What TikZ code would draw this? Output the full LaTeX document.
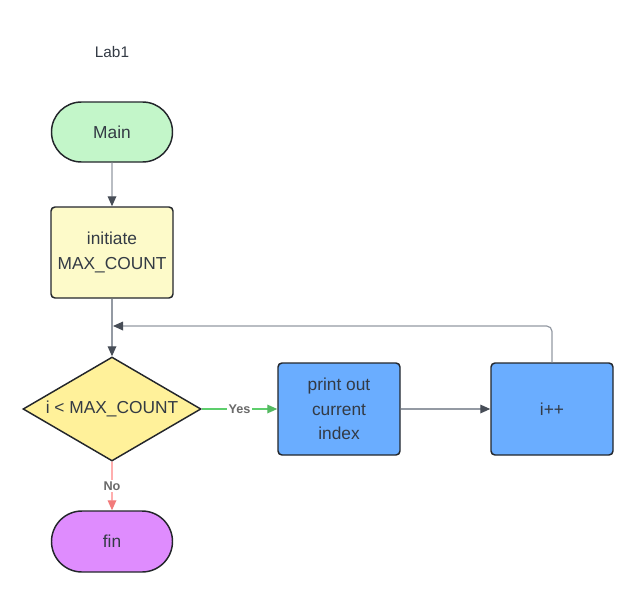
\documentclass[tikz,border=0pt]{standalone}
\usepackage{fontspec}
\setmainfont{Liberation Sans}
\usetikzlibrary{arrows.meta,shapes.geometric,shapes.misc}
\definecolor{txt}{HTML}{333A44}
\definecolor{bord}{HTML}{23262B}
\definecolor{edge}{HTML}{949AA3}
\definecolor{tip}{HTML}{474D57}
\definecolor{mgreen}{HTML}{C3F6C9}
\definecolor{myellow}{HTML}{FDFAC9}
\definecolor{dyellow}{HTML}{FFF19A}
\definecolor{mblue}{HTML}{6AADFF}
\definecolor{mpurple}{HTML}{DF8CFE}
\definecolor{yesg}{HTML}{5DCE6C}
\definecolor{nor}{HTML}{FF8282}
\definecolor{lbl}{HTML}{6A6A6A}
\tikzset{
  base/.style={draw=bord, line width=1.1pt, text=txt, font=\fontsize{13}{18.5}\selectfont, align=center, inner sep=0pt},
  term/.style={base, rounded rectangle, minimum width=121*0.75pt, minimum height=60*0.75pt},
  procbox/.style={base, rectangle, rounded corners=3pt, minimum width=122*0.75pt, minimum height=92*0.75pt},
  decision/.style={base, diamond, aspect=1.71, minimum width=178*0.75pt, minimum height=104*0.75pt},
  conn/.style={draw=edge, line width=0.9pt, -{Triangle[length=7.5pt, width=6.5pt, color=tip]}},
  yesconn/.style={draw=yesg, line width=0.9pt, -{Triangle[length=7.5pt, width=6.5pt, color=yesg!90!black]}},
  noconn/.style={draw=nor, line width=0.9pt, -{Triangle[length=7.5pt, width=6.5pt, color=nor!95!black]}},
  elabel/.style={fill=white, text=lbl, font=\bfseries\fontsize{9.5}{11}\selectfont, inner sep=1pt}
}
\begin{document}
\begin{tikzpicture}[x=0.75pt, y=-0.75pt]
\useasboundingbox (0,0) rectangle (627,610);
\node[text=txt, font=\fontsize{11.5}{14}\selectfont] (title) at (112,52) {Lab1};
\node[term, fill=mgreen] (main) at (112,132) {Main};
\node[procbox, fill=myellow, minimum height=91*0.75pt] (init) at (112,252.5) {initiate\\MAX\_COUNT};
\node[decision, fill=dyellow] (dec) at (112,409) {i < MAX\_COUNT};
\node[procbox, fill=mblue] (print) at (339,409) {print out\\current\\index};
\node[procbox, fill=mblue] (ipp) at (552,409) {i++};
\node[term, fill=mpurple, minimum height=61*0.75pt] (fin) at (112,541.5) {fin};
\coordinate (loopend) at (113,326);
\draw[conn] (main) -- (init);
\draw[conn] (init) -- (dec);
\draw[yesconn] (dec) -- node[elabel] {Yes} (print);
\draw[noconn] (dec) -- node[elabel, pos=0.5] {No} (fin);
\draw[conn] (print) -- (ipp);
\draw[conn, rounded corners=4pt] (ipp.north) |- (loopend);
\end{tikzpicture}
\end{document}
